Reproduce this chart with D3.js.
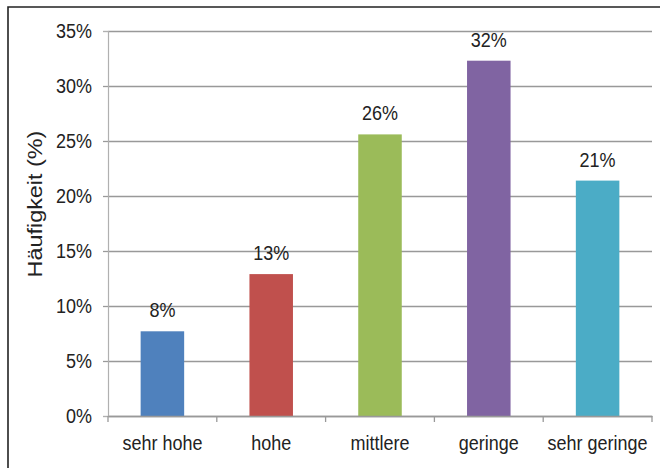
<!DOCTYPE html>
<html><head><meta charset="utf-8">
<script src="https://cdn.jsdelivr.net/npm/d3@7"></script>
<style>
html,body{margin:0;padding:0;background:#fff;}
svg{display:block;}
text{font-family:"Liberation Sans",Arial,sans-serif;fill:#222;}
</style></head>
<body>
<script>
const categories = ["sehr hohe", "hohe", "mittlere", "geringe", "sehr geringe"];
const values = [7.7, 12.9, 25.6, 32.3, 21.4];
const colors = ["#4F81BD", "#C0504D", "#9BBB59", "#8064A2", "#4BACC6"];
const yTicks = [0, 5, 10, 15, 20, 25, 30, 35];
const yTitle = "Häufigkeit (%)";

const W = 660, H = 468;
const m = {left: 108, right: 8, top: 31, bottom: 52};
const svg = d3.select("body").append("svg").attr("width", W).attr("height", H);

// frame
svg.append("path").attr("d", `M8,${H+2} L8,7 L${W+2},7`).attr("fill","none").attr("stroke","#222").attr("stroke-width",1.6);

const x = d3.scaleBand().domain(categories).range([m.left, W - m.right]).paddingInner(0.6).paddingOuter(0.3);
const y = d3.scaleLinear().domain([0, 35]).range([H - m.bottom, m.top]);
const S = "scale(1,1.15)";

// gridlines + y axis
const ya = svg.append("g").attr("transform", `translate(${m.left},0)`)
  .call(d3.axisLeft(y).tickValues(yTicks).tickFormat(d => d + "%").tickSize(5).tickPadding(11));
ya.select(".domain").attr("stroke", "#b0b0b0").attr("stroke-width", 1.2);
ya.selectAll(".tick line").attr("stroke", "#999").attr("stroke-width", 1.3);
ya.selectAll(".tick").append("line").attr("x1", 0).attr("x2", W - m.right - m.left)
  .attr("stroke", "#999").attr("stroke-width", 1.3);
ya.selectAll(".tick text").attr("font-size", 18).attr("fill", "#222").attr("transform", S)
  .style("font-family", "Liberation Sans, Arial, sans-serif");
ya.select(".domain").raise();

// bars
svg.append("g").selectAll("rect").data(values).join("rect")
  .attr("x", (d, i) => x(categories[i]))
  .attr("width", x.bandwidth())
  .attr("y", d => y(d))
  .attr("height", d => y(0) - y(d))
  .attr("fill", (d, i) => colors[i]);

// value labels
svg.append("g").selectAll("text").data(values).join("text")
  .attr("transform", (d, i) => `translate(${x(categories[i]) + x.bandwidth()/2},${y(d) - 14}) ${S}`)
  .attr("text-anchor", "middle").attr("font-size", 18)
  .text(d => Math.round(d) + "%");

// x axis
const xa = svg.append("g").attr("transform", `translate(0,${y(0)})`)
  .call(d3.axisBottom(x).tickSize(0).tickPadding(0));
xa.select(".domain").attr("stroke", "#999").attr("stroke-width", 1.3);
xa.selectAll(".tick text").attr("font-size", 18).attr("fill", "#222")
  .attr("y", 0).attr("dy", 0)
  .attr("transform", `translate(0,34) ${S}`)
  .style("font-family", "Liberation Sans, Arial, sans-serif");
// category boundary ticks
const bounds = d3.range(categories.length + 1).map(i => x.range()[0] + i * x.step());
xa.selectAll(".bt").data(bounds).join("line").attr("class","bt")
  .attr("x1", d => d).attr("x2", d => d).attr("y1", 0).attr("y2", 6)
  .attr("stroke", "#999").attr("stroke-width", 1.3);

// y title
svg.append("text")
  .attr("transform", `translate(42,204) rotate(-90) scale(1.2,1)`)
  .attr("text-anchor", "middle").attr("font-size", 19.5)
  .text(yTitle);
</script>
</body></html>
